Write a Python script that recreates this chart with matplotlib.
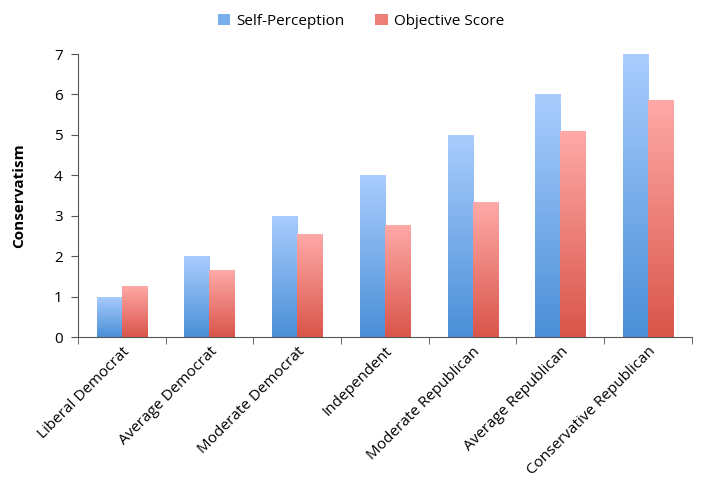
import matplotlib
matplotlib.use('Agg')
import matplotlib.pyplot as plt
import matplotlib.patches as patches
from matplotlib.colors import LinearSegmentedColormap
import numpy as np

plt.rcParams['font.family'] = ['Open Sans', 'DejaVu Sans']

# data
categories = ['Liberal Democrat', 'Average Democrat', 'Moderate Democrat', 'Independent',
              'Moderate Republican', 'Average Republican', 'Conservative Republican']
self_perception = [1, 2, 3, 4, 5, 6, 7]
objective_score = [1.27, 1.65, 2.55, 2.78, 3.33, 5.1, 5.87]

blue_cmap = LinearSegmentedColormap.from_list('blue', ['#4a8fd7', '#aacdfe'])
red_cmap = LinearSegmentedColormap.from_list('red', ['#d9554a', '#ffaaa8'])


def gradient_bars(ax, bars, cmap):
    grad = np.linspace(0, 1, 256).reshape(-1, 1)
    for b in bars:
        x, y = b.get_x(), b.get_y()
        w, h = b.get_width(), b.get_height()
        im = ax.imshow(grad, cmap=cmap, origin='lower', aspect='auto',
                       extent=[x, x + w, y, y + h], zorder=2)
        im.set_clip_path(b)


fig = plt.figure(figsize=(7.01, 4.87), dpi=100)
ax = fig.add_axes([0.111, 0.308, 0.876, 0.581])

x = np.arange(len(categories))
w = 0.285
b1 = ax.bar(x - w / 2, self_perception, w, facecolor='none', edgecolor='none', zorder=1)
b2 = ax.bar(x + w / 2, objective_score, w, facecolor='none', edgecolor='none', zorder=1)
gradient_bars(ax, b1, blue_cmap)
gradient_bars(ax, b2, red_cmap)

ax.set_xlim(-0.5, len(categories) - 0.5)
ax.set_ylim(0, 7)
ax.set_yticks(range(0, 8))
ax.set_xticks(x)
ax.set_xticklabels(categories, rotation=45, ha='right', rotation_mode='anchor', fontsize=11)
ax.set_xticks(np.arange(-0.5, len(categories), 1), minor=True)
ax.tick_params(axis='x', which='major', length=0, pad=5)
ax.tick_params(axis='x', which='minor', length=5, color='#555555')
ax.tick_params(axis='y', length=5, color='#555555', labelsize=11, pad=6)

for s in ['top', 'right']:
    ax.spines[s].set_visible(False)
for s in ['left', 'bottom']:
    ax.spines[s].set_color('#555555')

ax.set_ylabel('Conservatism', fontweight='bold', fontsize=11, labelpad=20)

handles = [patches.Patch(facecolor='#7aaeea', label='Self-Perception'),
           patches.Patch(facecolor='#ec7f78', label='Objective Score')]
fig.legend(handles=handles, loc='upper center', bbox_to_anchor=(0.515, 1.0), ncol=2,
           frameon=False, fontsize=11, handlelength=0.8, handleheight=0.8,
           handletextpad=0.4, columnspacing=2.0)

fig.savefig('out.png', dpi=100)
